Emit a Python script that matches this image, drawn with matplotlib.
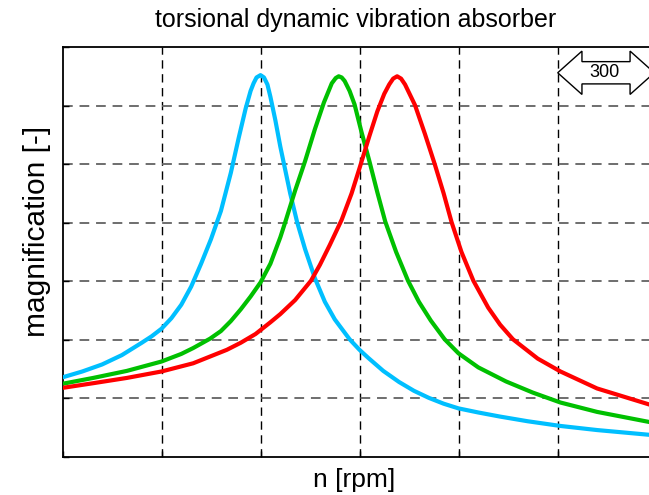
import matplotlib.pyplot as plt
from matplotlib.patches import Polygon

plt.rcParams['font.family'] = ['Liberation Sans', 'DejaVu Sans']

# (x in grid units, y = magnification)
cyan_x = [0.00, 0.20, 0.40, 0.60, 0.80, 0.90, 1.00, 1.10, 1.20, 1.30, 1.40, 1.50, 1.60,
          1.70, 1.78, 1.85, 1.90, 1.93, 1.96, 2.00, 2.035, 2.07, 2.10, 2.15, 2.20, 2.25,
          2.30, 2.37, 2.45, 2.55, 2.65, 2.75, 2.90, 3.00, 3.09, 3.24, 3.40, 3.55, 3.70,
          3.85, 4.00, 4.20, 4.42, 4.70, 5.03, 5.40, 5.92]
cyan_y = [1.36, 1.46, 1.58, 1.74, 1.95, 2.06, 2.19, 2.37, 2.60, 2.91, 3.30, 3.72, 4.20,
          4.85, 5.45, 5.95, 6.25, 6.38, 6.48, 6.52, 6.48, 6.36, 6.15, 5.75, 5.30, 4.90,
          4.50, 4.01, 3.55, 3.05, 2.65, 2.35, 2.01, 1.83, 1.69, 1.47, 1.28, 1.13, 1.01,
          0.91, 0.83, 0.76, 0.69, 0.61, 0.53, 0.46, 0.38]

green_x = [0.00, 0.31, 0.65, 1.00, 1.20, 1.32, 1.49, 1.60, 1.70, 1.80, 1.90, 2.00, 2.10,
           2.20, 2.25, 2.35, 2.45, 2.55, 2.64, 2.72, 2.76, 2.79, 2.82, 2.85, 2.90, 2.95,
           3.02, 3.10, 3.18, 3.26, 3.37, 3.49, 3.60, 3.72, 3.86, 4.00, 4.20, 4.48, 4.75,
           5.03, 5.40, 5.92]
green_y = [1.25, 1.35, 1.47, 1.63, 1.76, 1.86, 2.02, 2.15, 2.32, 2.52, 2.74, 2.98, 3.30,
           3.75, 4.01, 4.55, 5.05, 5.60, 6.05, 6.38, 6.47, 6.50, 6.48, 6.42, 6.25, 6.02,
           5.55, 5.05, 4.52, 4.02, 3.50, 3.01, 2.65, 2.33, 2.01, 1.77, 1.53, 1.29, 1.10,
           0.93, 0.77, 0.60]

red_x = [0.00, 0.31, 0.65, 1.00, 1.32, 1.66, 1.80, 1.95, 2.10, 2.20, 2.35, 2.51, 2.60,
         2.70, 2.82, 2.92, 3.00, 3.10, 3.18, 3.25, 3.30, 3.34, 3.38, 3.42, 3.46, 3.56,
         3.66, 3.76, 3.85, 3.93, 4.03, 4.15, 4.30, 4.42, 4.55, 4.80, 5.03, 5.40, 5.92]
red_y = [1.18, 1.26, 1.35, 1.46, 1.60, 1.83, 1.95, 2.10, 2.30, 2.44, 2.68, 3.01, 3.28,
         3.62, 4.05, 4.50, 4.93, 5.48, 5.90, 6.20, 6.36, 6.46, 6.50, 6.46, 6.36, 6.01,
         5.52, 5.00, 4.50, 4.01, 3.50, 3.01, 2.55, 2.26, 2.01, 1.68, 1.46, 1.17, 0.90]

x_ticks = [0, 1, 2, 3, 4, 5, 6]
y_ticks = [0, 1, 2, 3, 4, 5, 6, 7]
span_label = '300'

fig = plt.figure(figsize=(6.49, 4.95), dpi=100)
ax = fig.add_axes([62.5 / 649, 38 / 495, 594 / 649, 410 / 495])
ax.set_xlim(0, 6)
ax.set_ylim(0, 7)

for xt in x_ticks[1:-1]:
    ax.axvline(xt, color='black', lw=1.0, ls=(0, (6, 4)), zorder=1)
for yt in y_ticks[1:-1]:
    ax.axhline(yt, color='#6e6e6e', lw=1.4, ls=(0, (5, 3.5)), zorder=1)

ax.plot(cyan_x, cyan_y, color='#00bfff', lw=3.0, zorder=3, solid_joinstyle='round')
ax.plot(green_x, green_y, color='#00c000', lw=3.0, zorder=3, solid_joinstyle='round')
ax.plot(red_x, red_y, color='#ff0000', lw=3.0, zorder=3, solid_joinstyle='round')

# double arrow marker, top right
cx, cy = 5.49, 6.56
hw, sh, hl, hh = 0.488, 0.19, 0.245, 0.37
arrow = Polygon([(cx - hw, cy), (cx - hw + hl, cy + hh), (cx - hw + hl, cy + sh),
                 (cx + hw - hl, cy + sh), (cx + hw - hl, cy + hh), (cx + hw, cy),
                 (cx + hw - hl, cy - hh), (cx + hw - hl, cy - sh), (cx - hw + hl, cy - sh),
                 (cx - hw + hl, cy - hh)], closed=True, fc='white', ec='black', lw=1.0,
                zorder=4)
ax.add_patch(arrow)
ax.text(cx - 0.02, cy, span_label, ha='center', va='center', fontsize=13, zorder=5)

ax.set_xticks(x_ticks)
ax.set_yticks(y_ticks)
ax.set_xticklabels([])
ax.set_yticklabels([])
ax.tick_params(direction='in', length=4, width=1, colors='black')
for s in ax.spines.values():
    s.set_linewidth(1.3)

fig.text(356 / 649, 1 - 20 / 495, 'torsional dynamic vibration absorber',
         ha='center', va='center', fontsize=18)
fig.text(354 / 649, 1 - 480 / 495, 'n [rpm]', ha='center', va='center', fontsize=19)
fig.text(37 / 649, 1 - 231 / 495, 'magnification [-]', ha='center', va='center',
         rotation=90, fontsize=21.5)

fig.savefig('out.png', dpi=100)
